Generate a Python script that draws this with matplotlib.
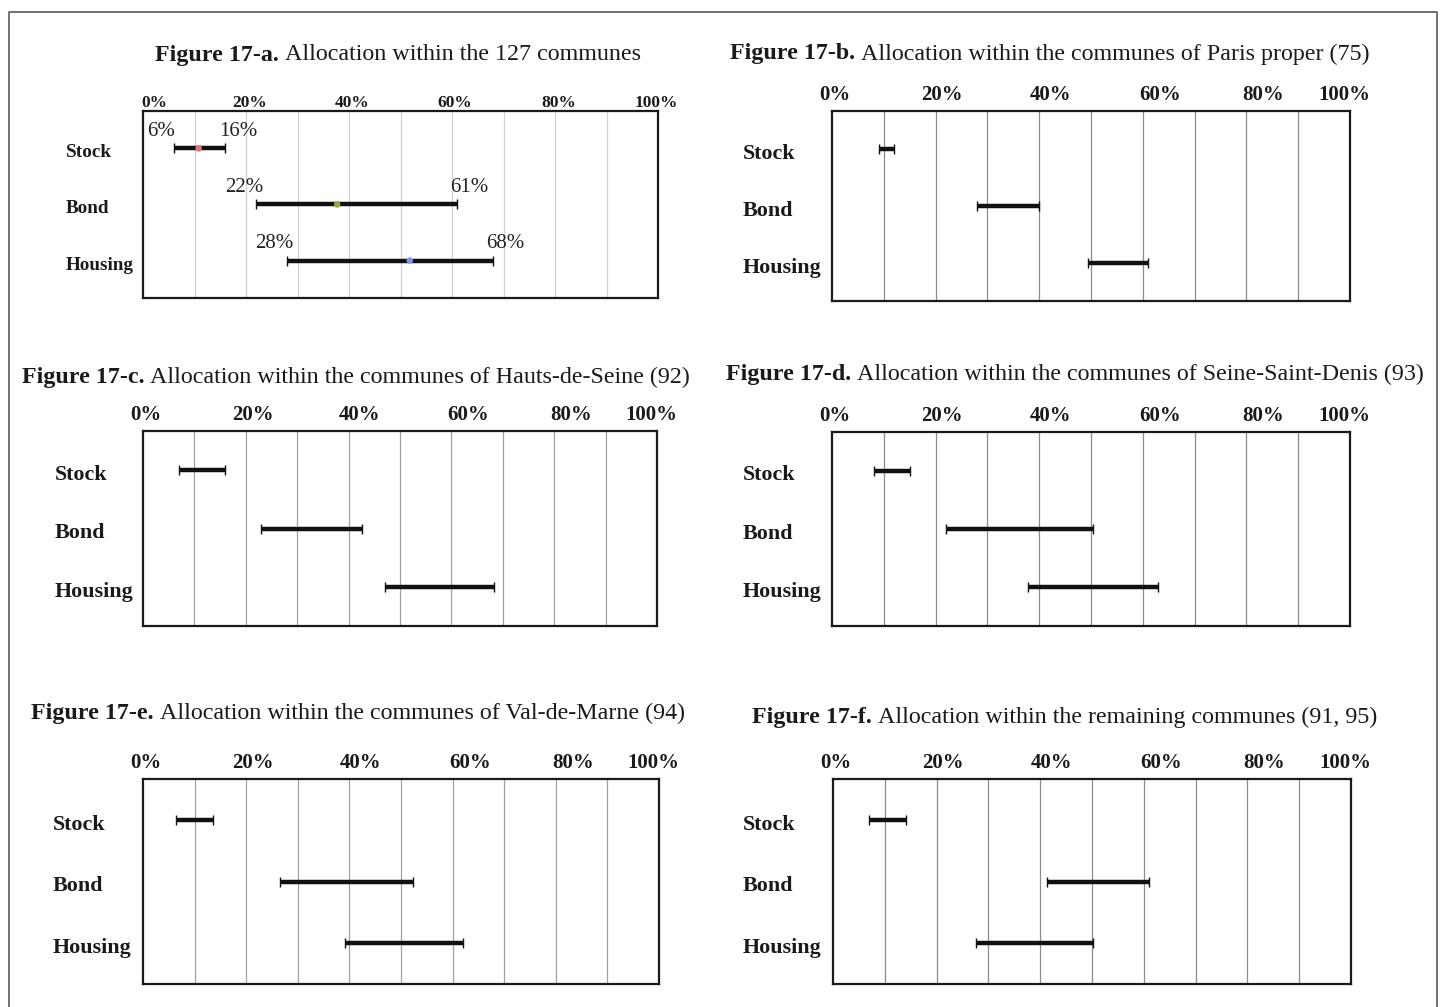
import matplotlib
matplotlib.use("Agg")
import matplotlib.pyplot as plt
from matplotlib.lines import Line2D

plt.rcParams['font.family'] = ['Liberation Serif', 'DejaVu Serif']

W, H = 1443, 1007

categories = ["Stock", "Bond", "Housing"]
tick_labels = ["0%", "20%", "40%", "60%", "80%", "100%"]

# where the tick labels sit on the 0-100 scale (they are not aligned with the grid in the original)
ticks_a = [2.2, 20.8, 40.7, 60.5, 80.8, 99.6]
ticks_other = [0.5, 21.3, 42.2, 63.3, 83.3, 99.0]

a_low = [6, 22, 28]
a_high = [16, 61, 68]
a_mid = [10.8, 37.7, 51.8]
a_mid_colors = ['#e8707a', '#9aa43c', '#7f97e0']

b_low = [9, 28, 49.5]
b_high = [12, 40, 61]
c_low = [7, 23, 47]
c_high = [16, 42.7, 68.3]
d_low = [8.2, 22, 37.8]
d_high = [15, 50.3, 63]
e_low = [6.3, 26.5, 39.1]
e_high = [13.5, 52.3, 62]
f_low = [7, 41.3, 27.7]
f_high = [14, 61.1, 50.2]

titles = [
    ("Figure 17-a.", "Allocation within the 127 communes"),
    ("Figure 17-b.", "Allocation within the communes of Paris proper (75)"),
    ("Figure 17-c.", "Allocation within the communes of Hauts-de-Seine (92)"),
    ("Figure 17-d.", "Allocation within the communes of Seine-Saint-Denis (93)"),
    ("Figure 17-e.", "Allocation within the communes of Val-de-Marne (94)"),
    ("Figure 17-f.", "Allocation within the remaining communes (91, 95)"),
]

fig = plt.figure(figsize=(W / 100, H / 100), dpi=100)
renderer = fig.canvas.get_renderer()

# outer frame (left, top, right only)
fig.add_artist(Line2D([9 / W, 9 / W, 1437 / W, 1437 / W],
                      [-0.01, 1 - 12 / H, 1 - 12 / H, -0.01],
                      color='#666666', lw=1.3, transform=fig.transFigure))


def draw_title(cx, cy, bold, rest, size=17.3):
    t1 = fig.text(0, 1 - cy / H, bold + " ", fontweight='bold', fontsize=size, va='center', color='#1a1a1a')
    t2 = fig.text(0, 1 - cy / H, rest, fontsize=size, va='center', color='#1a1a1a')
    w1 = t1.get_window_extent(renderer).width
    w2 = t2.get_window_extent(renderer).width
    left = cx - (w1 + w2) / 2
    t1.set_x(left / W)
    t2.set_x((left + w1) / W)


def panel(box, low, high, ticks, label_left, grid_color, tick_size=15, label_size=15.8, tick_pad=4):
    x0, y0, x1, y1 = box
    ax = fig.add_axes([x0 / W, 1 - y1 / H, (x1 - x0) / W, (y1 - y0) / H])
    ax.set_xlim(0, 100)
    ax.set_ylim(2.667, -0.667)
    for g in range(10, 100, 10):
        ax.axvline(g, color=grid_color, lw=0.9, zorder=1)
    for s in ax.spines.values():
        s.set_linewidth(1.6)
        s.set_color('#1a1a1a')
    ax.xaxis.tick_top()
    ax.set_xticks(ticks)
    ax.set_xticklabels(tick_labels, fontweight='bold', fontsize=tick_size, color='#1a1a1a')
    ax.tick_params(axis='x', length=0, pad=tick_pad)
    ax.set_yticks([])
    for i, (lo, hi) in enumerate(zip(low, high)):
        ax.errorbar([(lo + hi) / 2], [i], xerr=[(hi - lo) / 2], fmt='none', ecolor='#111111',
                    elinewidth=3.2, capsize=3.5, capthick=1.0, zorder=3)
    lx = (label_left - x0) / (x1 - x0)
    for i, name in enumerate(categories):
        ax.text(lx, i + 0.08, name, transform=ax.get_yaxis_transform(), ha='left', va='center',
                fontweight='bold', fontsize=label_size, color='#1a1a1a', clip_on=False)
    return ax


# panel a
ax_a = panel((143, 111, 658, 298), a_low, a_high, ticks_a, 66, '#d2d2d2', tick_size=12.5, label_size=13.8, tick_pad=0)
for i in range(len(categories)):
    ax_a.scatter([a_mid[i]], [i], s=22, color=a_mid_colors[i], zorder=4, edgecolors='none')
    ax_a.annotate(f"{a_low[i]}%", (a_low[i], i), xytext=(-9, 12), textcoords='offset points',
                  ha='center', va='center', fontsize=15, color='#222222')
    ax_a.annotate(f"{a_high[i]}%", (a_high[i], i), xytext=(9, 12), textcoords='offset points',
                  ha='center', va='center', fontsize=15, color='#222222')

panel((832, 111, 1350, 301), b_low, b_high, ticks_other, 743, '#8c8c8c')
panel((143, 431, 657, 626), c_low, c_high, ticks_other, 55, '#a0a0a0')
panel((832, 432, 1350, 626), d_low, d_high, ticks_other, 743, '#8c8c8c')
panel((143, 779, 659, 984), e_low, e_high, ticks_other, 53, '#a0a0a0')
panel((833, 779, 1351, 984), f_low, f_high, ticks_other, 743, '#8c8c8c')

title_pos = [(398, 55), (1050, 54), (356, 377), (1075, 374), (358, 713), (1065, 717)]
for (cx, cy), (bold, rest) in zip(title_pos, titles):
    draw_title(cx, cy, bold, rest)

fig.savefig("out.png", dpi=100)
